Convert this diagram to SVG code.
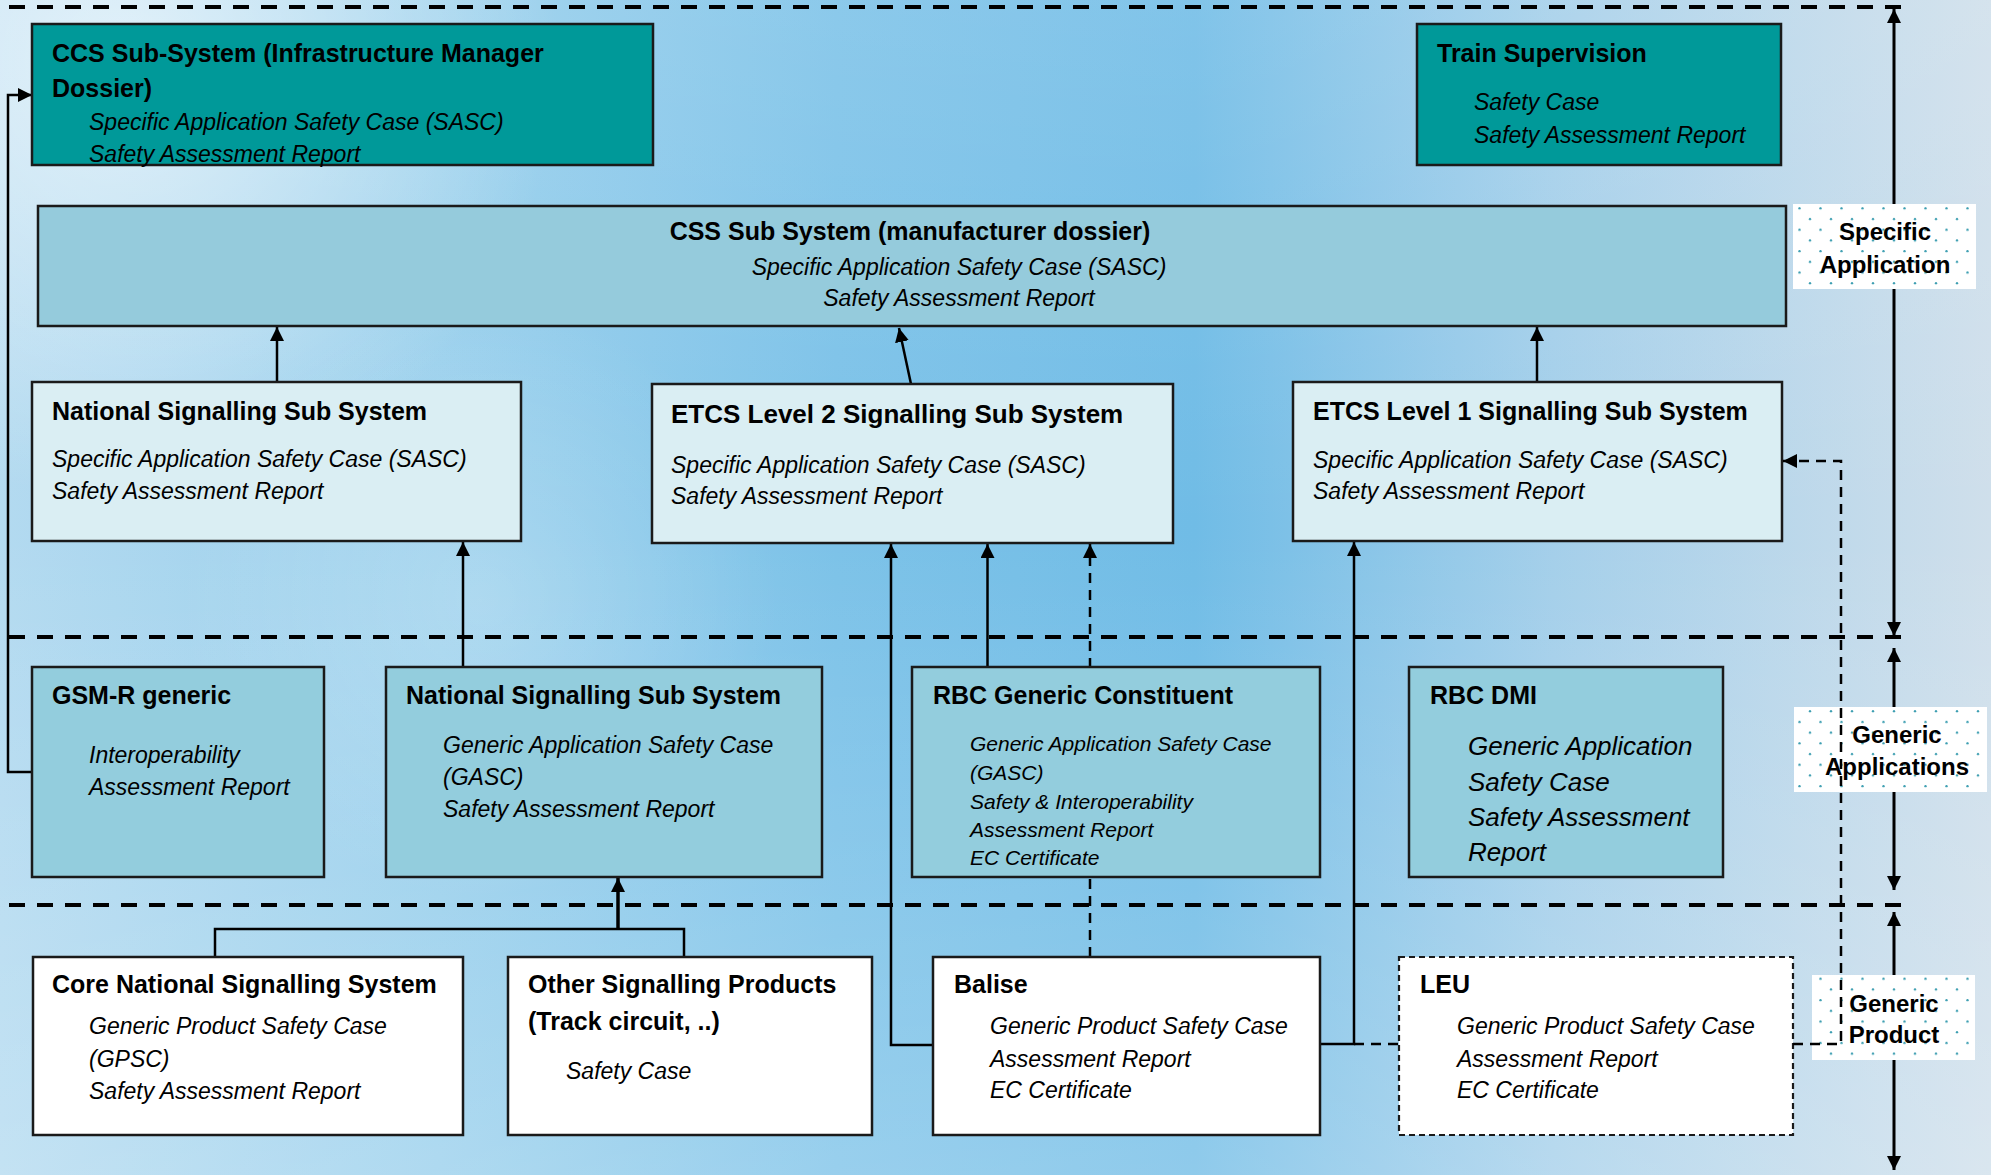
<svg xmlns="http://www.w3.org/2000/svg" width="1991" height="1175" viewBox="0 0 1991 1175">
  <defs>
    <linearGradient id="bgH" x1="0" y1="0" x2="1" y2="0">
      <stop offset="0" stop-color="#b3daf0"/>
      <stop offset="0.22" stop-color="#98cfec"/>
      <stop offset="0.42" stop-color="#7cc2e8"/>
      <stop offset="0.6" stop-color="#70bce6"/>
      <stop offset="0.78" stop-color="#a4cfea"/>
      <stop offset="1" stop-color="#cfdfeb"/>
    </linearGradient>
    <linearGradient id="bgV" x1="0" y1="0" x2="0" y2="1">
      <stop offset="0" stop-color="#ffffff" stop-opacity="0.12"/>
      <stop offset="0.45" stop-color="#ffffff" stop-opacity="0"/>
      <stop offset="1" stop-color="#ffffff" stop-opacity="0.22"/>
    </linearGradient>
    <radialGradient id="glowTL" cx="120" cy="60" r="440" gradientUnits="userSpaceOnUse">
      <stop offset="0" stop-color="#ffffff" stop-opacity="0.6"/>
      <stop offset="1" stop-color="#ffffff" stop-opacity="0"/>
    </radialGradient>
    <radialGradient id="glowMid" cx="480" cy="600" r="300" gradientUnits="userSpaceOnUse">
      <stop offset="0" stop-color="#ffffff" stop-opacity="0.22"/>
      <stop offset="1" stop-color="#ffffff" stop-opacity="0"/>
    </radialGradient>
    <pattern id="dots" width="21" height="21.4" patternUnits="userSpaceOnUse">
      <rect width="21" height="21.4" fill="#ffffff"/>
      <circle cx="4" cy="5" r="1.2" fill="#3a9db0"/>
      <circle cx="14.5" cy="15.7" r="1.2" fill="#3a9db0"/>
    </pattern>
    <marker id="ah" markerWidth="15" markerHeight="15" refX="14" refY="7" orient="auto" markerUnits="userSpaceOnUse">
      <path d="M0,0 L14,7 L0,14 z" fill="#000"/>
    </marker>
    <marker id="ahs" markerWidth="15" markerHeight="15" refX="0" refY="7" orient="auto" markerUnits="userSpaceOnUse">
      <path d="M14,0 L0,7 L14,14 z" fill="#000"/>
    </marker>
  </defs>
  <style>
    .box { stroke: #1a1a1a; stroke-width: 2.5; }
    .teal { fill: #009999; }
    .css { fill: #95cbdc; }
    .light { fill: #daeef3; }
    .gen { fill: #93cddd; }
    .prod { fill: #ffffff; }
    .dashedbox { fill: #ffffff; stroke: #1a1a1a; stroke-width: 2.2; stroke-dasharray: 6 4; }
    .title { font-family: "Liberation Sans", Arial, sans-serif; font-weight: bold; font-size: 25px; fill: #000; }
    .body { font-family: "Liberation Sans", Arial, sans-serif; font-style: italic; font-size: 23px; fill: #000; }
    .lbl { font-family: "Liberation Sans", Arial, sans-serif; font-weight: bold; font-size: 24px; fill: #000; text-anchor: middle; }
    .sep { stroke: #000; stroke-width: 4; stroke-dasharray: 16 12; fill: none; }
    .con { stroke: #000; stroke-width: 2.5; fill: none; }
    .dcon { stroke: #000; stroke-width: 2.5; fill: none; stroke-dasharray: 10 7; }
    .axis { stroke: #000; stroke-width: 3; fill: none; }
  </style>

  <!-- background -->
  <rect x="0" y="0" width="1991" height="1175" fill="url(#bgH)"/>
  <rect x="0" y="0" width="1991" height="1175" fill="url(#bgV)"/>
  <rect x="0" y="0" width="1991" height="1175" fill="url(#glowTL)"/>
  <rect x="0" y="0" width="1991" height="1175" fill="url(#glowMid)"/>

  <!-- level separators -->
  <g id="separators">
    <line class="sep" x1="9" y1="7" x2="1902" y2="7"/>
    <line class="sep" x1="9" y1="637" x2="1902" y2="637"/>
    <line class="sep" x1="9" y1="905" x2="1902" y2="905"/>
  </g>

  <!-- level axis arrows -->
  <g id="axis">
    <line class="axis" x1="1894" y1="9" x2="1894" y2="636" marker-start="url(#ahs)" marker-end="url(#ah)"/>
    <line class="axis" x1="1894" y1="648" x2="1894" y2="890" marker-start="url(#ahs)" marker-end="url(#ah)"/>
    <line class="axis" x1="1894" y1="912" x2="1894" y2="1170" marker-start="url(#ahs)" marker-end="url(#ah)"/>
  </g>

  <!-- level labels -->
  <g id="label-specific-application">
    <rect x="1793" y="204" width="183" height="85" fill="url(#dots)"/>
    <text class="lbl" x="1885" y="240">Specific</text>
    <text class="lbl" x="1885" y="273">Application</text>
  </g>
  <g id="label-generic-applications">
    <rect x="1794" y="707" width="193" height="85" fill="url(#dots)"/>
    <text class="lbl" x="1897" y="743">Generic</text>
    <text class="lbl" x="1897" y="775">Applications</text>
  </g>
  <g id="label-generic-product">
    <rect x="1812" y="975" width="163" height="85" fill="url(#dots)"/>
    <text class="lbl" x="1894" y="1012">Generic</text>
    <text class="lbl" x="1894" y="1043">Product</text>
  </g>

  <!-- connectors -->
  <g id="connectors">
    <path class="con" d="M35,772 L8,772 L8,95 L32,95" marker-end="url(#ah)"/>
    <path class="con" d="M277,382 L277,327" marker-end="url(#ah)"/>
    <path class="con" d="M911,384 L899,328" marker-end="url(#ah)"/>
    <path class="con" d="M1537,382 L1537,327" marker-end="url(#ah)"/>
    <path class="con" d="M463,667 L463,542" marker-end="url(#ah)"/>
    <path class="con" d="M933,1045 L891,1045 L891,544" marker-end="url(#ah)"/>
    <path class="con" d="M987.5,667 L987.5,544" marker-end="url(#ah)"/>
    <path class="dcon" d="M1090,957 L1090,544" marker-end="url(#ah)"/>
    <path class="con" d="M1320,1044 L1354,1044 L1354,542" marker-end="url(#ah)"/>
    <path class="dcon" d="M1354,1044 L1399,1044"/>
    <path class="con" d="M215,957 L215,929 L684,929 L684,957"/>
    <path class="con" style="stroke-width:3.5" d="M618,929 L618,878" marker-end="url(#ah)"/>
  </g>

  <!-- nodes: specific application -->
  <g id="ccs-subsystem">
    <rect class="box teal" x="32" y="24" width="621" height="141"/>
    <text class="title" x="52" y="62">CCS Sub-System (Infrastructure Manager</text>
    <text class="title" x="52" y="97">Dossier)</text>
    <text class="body" x="89" y="130">Specific Application Safety Case (SASC)</text>
    <text class="body" x="89" y="162">Safety Assessment Report</text>
  </g>
  <g id="train-supervision">
    <rect class="box teal" x="1417" y="24" width="364" height="141"/>
    <text class="title" x="1437" y="62">Train Supervision</text>
    <text class="body" x="1474" y="110">Safety Case</text>
    <text class="body" x="1474" y="143">Safety Assessment Report</text>
  </g>
  <g id="css-subsystem">
    <rect class="box css" x="38" y="206" width="1748" height="120"/>
    <text class="title" x="910" y="240" text-anchor="middle">CSS Sub System (manufacturer dossier)</text>
    <text class="body" x="959" y="275" text-anchor="middle">Specific Application Safety Case (SASC)</text>
    <text class="body" x="959" y="306" text-anchor="middle">Safety Assessment Report</text>
  </g>
  <g id="national-signalling-specific">
    <rect class="box light" x="32" y="382" width="489" height="159"/>
    <text class="title" x="52" y="420">National Signalling Sub System</text>
    <text class="body" x="52" y="467">Specific Application Safety Case (SASC)</text>
    <text class="body" x="52" y="499">Safety Assessment Report</text>
  </g>
  <g id="etcs-level2">
    <rect class="box light" x="652" y="384" width="521" height="159"/>
    <text class="title" x="671" y="423" style="font-size:26px">ETCS Level 2 Signalling Sub System</text>
    <text class="body" x="671" y="473">Specific Application Safety Case (SASC)</text>
    <text class="body" x="671" y="504">Safety Assessment Report</text>
  </g>
  <g id="etcs-level1">
    <rect class="box light" x="1293" y="382" width="489" height="159"/>
    <text class="title" x="1313" y="420">ETCS Level 1 Signalling Sub System</text>
    <text class="body" x="1313" y="468">Specific Application Safety Case (SASC)</text>
    <text class="body" x="1313" y="499">Safety Assessment Report</text>
  </g>

  <!-- nodes: generic applications -->
  <g id="gsmr-generic">
    <rect class="box gen" x="32" y="667" width="292" height="210"/>
    <text class="title" x="52" y="704">GSM-R generic</text>
    <text class="body" x="89" y="763">Interoperability</text>
    <text class="body" x="89" y="795">Assessment Report</text>
  </g>
  <g id="national-signalling-generic">
    <rect class="box gen" x="386" y="667" width="436" height="210"/>
    <text class="title" x="406" y="704">National Signalling Sub System</text>
    <text class="body" x="443" y="753">Generic Application Safety Case</text>
    <text class="body" x="443" y="785">(GASC)</text>
    <text class="body" x="443" y="817">Safety Assessment Report</text>
  </g>
  <g id="rbc-generic-constituent">
    <rect class="box gen" x="912" y="667" width="408" height="210"/>
    <text class="title" x="933" y="704">RBC Generic Constituent</text>
    <text class="body" x="970" y="751" style="font-size:21px">Generic Application Safety Case</text>
    <text class="body" x="970" y="780" style="font-size:21px">(GASC)</text>
    <text class="body" x="970" y="809" style="font-size:21px">Safety &amp; Interoperability</text>
    <text class="body" x="970" y="837" style="font-size:21px">Assessment Report</text>
    <text class="body" x="970" y="865" style="font-size:21px">EC Certificate</text>
  </g>
  <g id="rbc-dmi">
    <rect class="box gen" x="1409" y="667" width="314" height="210"/>
    <text class="title" x="1430" y="704">RBC DMI</text>
    <text class="body" x="1468" y="755" style="font-size:26px">Generic Application</text>
    <text class="body" x="1468" y="791" style="font-size:26px">Safety Case</text>
    <text class="body" x="1468" y="826" style="font-size:26px">Safety Assessment</text>
    <text class="body" x="1468" y="861" style="font-size:26px">Report</text>
  </g>

  <!-- nodes: generic products -->
  <g id="core-national-signalling">
    <rect class="box prod" x="33" y="957" width="430" height="178"/>
    <text class="title" x="52" y="993">Core National Signalling System</text>
    <text class="body" x="89" y="1034">Generic Product Safety Case</text>
    <text class="body" x="89" y="1067">(GPSC)</text>
    <text class="body" x="89" y="1099">Safety Assessment Report</text>
  </g>
  <g id="other-signalling-products">
    <rect class="box prod" x="508" y="957" width="364" height="178"/>
    <text class="title" x="528" y="993">Other Signalling Products</text>
    <text class="title" x="528" y="1030">(Track circuit, ..)</text>
    <text class="body" x="566" y="1079">Safety Case</text>
  </g>
  <g id="balise">
    <rect class="box prod" x="933" y="957" width="387" height="178"/>
    <text class="title" x="954" y="993">Balise</text>
    <text class="body" x="990" y="1034">Generic Product Safety Case</text>
    <text class="body" x="990" y="1067">Assessment Report</text>
    <text class="body" x="990" y="1098">EC Certificate</text>
  </g>
  <g id="leu">
    <rect class="dashedbox" x="1399" y="957" width="394" height="178"/>
    <text class="title" x="1420" y="993">LEU</text>
    <text class="body" x="1457" y="1034">Generic Product Safety Case</text>
    <text class="body" x="1457" y="1067">Assessment Report</text>
    <text class="body" x="1457" y="1098">EC Certificate</text>
  </g>

  <!-- connector drawn over labels -->
  <g id="connectors-over">
    <path class="dcon" d="M1793,1044 L1841,1044 L1841,461 L1783,461" marker-end="url(#ah)"/>
  </g>
</svg>
